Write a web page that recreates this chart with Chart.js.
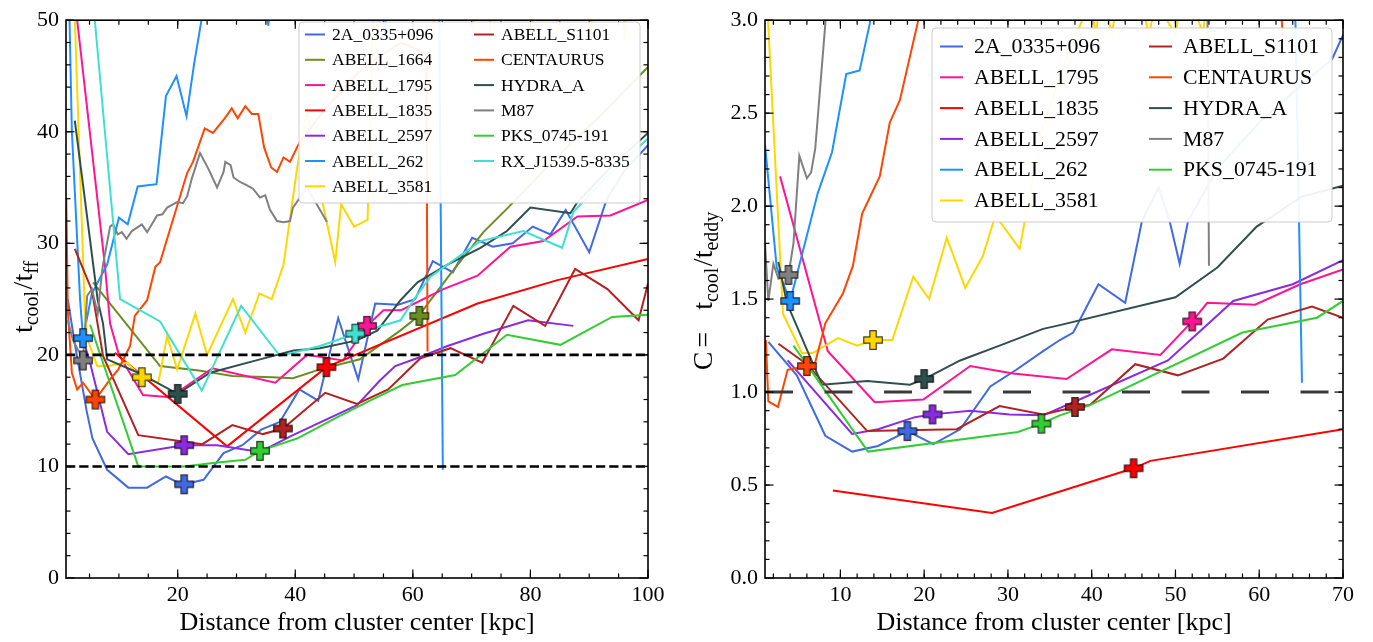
<!DOCTYPE html>
<html>
<head>
<meta charset="utf-8">
<script src="https://cdn.jsdelivr.net/npm/chart.js@4.4.1/dist/chart.umd.min.js"></script>
<style>
  body { margin: 0; background: #fff; width: 1373px; height: 642px; position: relative; overflow: hidden; }
  canvas { position: absolute; top: 0; }
  #tffChart { left: 0; }
  #eddyChart { left: 690px; }
</style>
</head>
<body>
<canvas id="tffChart" width="690" height="642"></canvas>
<canvas id="eddyChart" width="683" height="642"></canvas>

<script>
// Cluster names (legend order)
const tffNames = ['2A_0335+096', 'ABELL_1664', 'ABELL_1795', 'ABELL_1835', 'ABELL_2597', 'ABELL_262', 'ABELL_3581',
  'ABELL_S1101', 'CENTAURUS', 'HYDRA_A', 'M87', 'PKS_0745-191', 'RX_J1539.5-8335'];
const eddyNames = ['2A_0335+096', 'ABELL_1795', 'ABELL_1835', 'ABELL_2597', 'ABELL_262', 'ABELL_3581',
  'ABELL_S1101', 'CENTAURUS', 'HYDRA_A', 'M87', 'PKS_0745-191'];

const colors = {
  '2A_0335+096': '#4169E1', 'ABELL_1664': '#6B8E23', 'ABELL_1795': '#FF1493', 'ABELL_1835': '#FF0000',
  'ABELL_2597': '#8A2BE2', 'ABELL_262': '#1E90FF', 'ABELL_3581': '#FFD700', 'ABELL_S1101': '#B22222',
  'CENTAURUS': '#FF4500', 'HYDRA_A': '#2F4F4F', 'M87': '#808080', 'PKS_0745-191': '#32CD32',
  'RX_J1539.5-8335': '#40E0D0'
};

// ---- left panel: t_cool/t_ff profiles, [r (kpc), ratio] ----
const tff_2A0335 = [[1.3,25],[2.5,21],[3.5,18],[4.5,15],[5.5,12.5],[8,9.7],[11.6,8.1],[14.8,8.1],[18,9.1],[19.9,8.6],[21.1,8.4],[24.4,8.8],[27.8,11.2],[31,11.9],[34.2,13.3],[37.4,14],[40.7,16.9],[43.9,15.9],[47.3,23.3],[50.7,17.8],[53.6,24.6],[57.5,24.5],[60.4,25],[63.4,28.4],[66.8,27.4],[70.1,30.5],[73.6,29.7],[77,30],[80.4,31.5],[83.4,30.8],[86,33],[90,29.2],[93,34],[96,36.5],[100,38.8]];
const tff_A1664 = [[5.6,26.5],[17,19],[23.6,18.6],[29.3,18.1],[36.1,18],[39.6,17.9],[44.2,18.7],[51,19.6],[57.9,22.2],[61,23.5],[66,27],[72,31],[76.2,33.2],[85,38],[92,41.5],[100,45.8]];
const tff_A1795 = [[2,70],[2.9,50],[7.6,28.1],[8.5,22.8],[10,20],[14.1,16.4],[18.7,16.2],[25.9,18.8],[36.6,17.5],[42,20],[48.1,19.5],[52.2,22.6],[55,24],[58,24],[65.2,25.9],[71,27.1],[76.6,29.7],[82.2,30.2],[88,32.4],[93.6,32.5],[100,33.9]];
const tff_A1835 = [[9.3,20.2],[28.4,11.8],[45.3,18.9],[71,24.6],[84.6,26.7],[100,28.6]];
const tff_A2597 = [[3.5,22],[5,19.5],[8,13.1],[11.6,11.1],[21,11.9],[26.7,11.9],[34,11.3],[39.6,12.8],[50.5,15.5],[54.4,17.7],[57,19],[60.7,19.7],[65.9,20.8],[72,21.9],[79.6,23.1],[87.3,22.6]];
const tff_A262 = [[1.2,60],[2,40],[3.4,24.9],[3.9,21.5],[5.4,25.5],[8,28.1],[10,32.3],[11.5,31.7],[13.2,35.1],[16.4,35.3],[18,43.2],[19.8,45],[21.5,41.4],[22.8,46.1],[25,53],[35,53],[35.4,49.5],[36,53],[54.6,53],[55.2,48.5],[55.8,53],[64.4,55],[65.1,9.7]];
const tff_A3581 = [[2,80],[2.5,50],[4.2,24],[4.6,21.5],[6.3,19],[8,19],[11.4,19.3],[13.9,18],[16.7,17.5],[18.2,21.7],[19.9,18.7],[23,23.7],[25,20],[29.4,25],[31.5,22],[33.9,25.5],[36,25],[38,28.1],[40.3,36.7],[42,42],[44.5,34],[46.8,28.3],[47.8,33.5],[50,31.5],[52.3,32.1],[53.5,55],[54.3,49],[55,55],[63.3,55],[63.6,48.6],[64,55],[70,55],[70.3,48.8],[70.7,55],[72.8,55],[73.1,48.9],[73.5,55],[80,55],[80.3,48.7],[80.7,55],[84.3,55],[84.6,48.8],[85,55],[90,55],[90.3,48.5],[90.8,55],[95.5,55],[96,48.3],[96.6,55],[100,56]];
const tff_S1101 = [[2.5,29.5],[5.4,25.8],[7.3,19.9],[13.3,12.8],[24.2,12],[29.3,13.7],[34.5,12.9],[37.9,13.4],[45.1,16.6],[50.5,15.6],[55.8,16.9],[61.3,19.7],[66.4,20.6],[71.8,19.3],[77.1,24.4],[82.5,22.6],[87.6,27.7],[93.1,25.9],[98.4,23.1],[100,26.4]];
const tff_Centaurus = [[1.05,34],[1.3,24],[2,18.4],[2.9,16.9],[3.9,17.5],[6,16],[8.5,17.8],[9.9,18.7],[11.9,20.8],[12.7,23.5],[14.8,24.9],[16.2,27.9],[17,28.3],[21.6,36.3],[22.6,37.3],[24.6,40.3],[26,39.9],[28,41.2],[29.2,42.1],[30.2,41.2],[31.5,42.3],[32.6,41.6],[33.7,41.6],[34.7,38.6],[35.9,36.8],[36.9,36.4],[38,37.7],[39.1,37.3],[40.5,38.8],[45,42],[52,46],[58,48],[62.3,47],[62.5,20.3]];
const tff_HydraA = [[2.5,41],[6.4,24.9],[7.3,22.8],[8,19.6],[13.3,18.4],[20,16.5],[25.5,18.4],[34,19.6],[39.7,20.4],[44.2,20.6],[50.5,21.3],[54,22.2],[57.9,24.9],[60.8,26.5],[65.9,28.1],[71.5,29.6],[76,31.1],[80,33.2],[86.8,32.7],[88,33.7],[94,37],[100,39.9]];
const tff_M87 = [[1.3,23.1],[2.2,21.3],[3.9,19.6],[4.6,25.3],[5.4,25.9],[6.4,23.7],[7.1,27.3],[7.3,28.1],[8.5,31.5],[9,31.7],[9.8,30.8],[10.5,31],[11.3,30.4],[12.2,31.1],[13.9,31.7],[14.8,31],[16.5,32.5],[17.4,32.6],[18.2,33.2],[19.9,33.7],[20.9,33.6],[21.6,34.2],[22.4,35.8],[23.8,38.1],[25.2,36.7],[26.7,35],[27.8,36.4],[28.1,37.3],[29,37],[29.5,35.9],[30.6,35.5],[31.8,35.2],[32.8,34.9],[34,34.1],[34.9,34.3],[35.7,33],[36.9,32],[38,31.9],[39.1,32],[39.6,33.2],[42,35],[45.4,31.9]];
const tff_PKS0745 = [[5.1,22.7],[13.3,10],[21,10],[26,10.3],[31.5,10.6],[34,11.4],[40.3,12.5],[47.1,14.4],[52.7,15.9],[58.2,17.3],[67.2,18.2],[76,21.8],[85.1,20.9],[93.9,23.4],[100,23.6]];
const tff_RXJ1539 = [[5.4,60],[5.9,50],[10.2,25],[17,23],[24.1,16.8],[30.8,24.4],[37.4,19.9],[44.2,20.8],[50.2,21.9],[57.9,23.1],[60.5,25.2],[63,27],[71.5,30.2],[78.8,31.1],[85.4,29.6],[87.3,32.8],[93,36],[100,39.4]];

const tffProfiles = [tff_2A0335, tff_A1664, tff_A1795, tff_A1835, tff_A2597, tff_A262, tff_A3581,
  tff_S1101, tff_Centaurus, tff_HydraA, tff_M87, tff_PKS0745, tff_RXJ1539];
// chosen radius per cluster (same order as tffNames)
const tffMarkers = [[21.1,8.4],[61.1,23.5],[52.2,22.6],[45.3,18.9],[21.1,11.9],[3.9,21.5],[13.9,18],
  [37.9,13.4],[6,16],[20,16.5],[3.9,19.5],[34,11.4],[50.2,21.9]];
const tffLevels = [10, 20];
const tffXTicks = [20, 40, 60, 80, 100];
const tffYTicks = [0, 10, 20, 30, 40, 50];

// ---- right panel: C = t_cool/t_eddy profiles, [r (kpc), C] ----
const eddy_2A0335 = [[1.4,1.27],[4.8,1.09],[8.2,0.765],[11.4,0.68],[14.5,0.71],[18,0.79],[21.1,0.72],[24.3,0.8],[27.9,1.03],[31,1.12],[34.2,1.22],[36.2,1.28],[37.8,1.32],[40.8,1.58],[44,1.48],[46,1.92],[48,2.1],[49.3,1.92],[50.5,1.69],[51.5,1.92],[55,2.2],[60,2.45],[65,2.65],[68.7,2.79],[70,2.92]];
const eddy_A1795 = [[2.8,2.16],[8.5,1.22],[14.1,0.945],[19.9,0.96],[25.5,1.14],[30.6,1.1],[37,1.07],[42.4,1.23],[48.2,1.2],[52,1.38],[53.8,1.48],[59.5,1.47],[64.9,1.58],[70,1.66]];
const eddy_A1835 = [[9.1,0.47],[28.1,0.35],[45,0.59],[47,0.63],[70,0.8]];
const eddy_A2597 = [[3.7,1.17],[11.4,0.775],[14.5,0.8],[18.9,0.865],[21,0.88],[25.5,0.9],[30.2,0.88],[34.2,0.875],[37.8,0.945],[49.1,1.17],[56.9,1.49],[64,1.58],[70,1.71]];
const eddy_A262 = [[1,2.33],[2.4,1.67],[4,1.49],[7.3,2.07],[9,2.29],[10.7,2.71],[12.3,2.73],[13.5,2.98],[14.5,3.3],[63,3.4],[64.3,3.05],[65.1,1.05]];
const eddy_A3581 = [[1.36,3.0],[3.15,1.42],[5.4,1.21],[6.7,1.21],[9.7,1.29],[12,1.25],[13.9,1.28],[16.2,1.28],[18.7,1.62],[20.6,1.5],[22.7,1.83],[24.9,1.56],[27,1.73],[28.5,1.95],[31.4,1.77],[34,2.4],[37,2.8],[39.8,3.1],[40.5,2.93],[41.2,3.15],[42.4,2.93],[43.5,3.2],[46,3.1],[46.8,2.92],[47.7,3.1],[50,2.92],[51,3.2],[53.3,2.93],[54,3.2]];
const eddy_S1101 = [[2.6,1.26],[6,1.15],[13.2,0.79],[23.9,0.8],[29,0.925],[34.2,0.88],[38,0.92],[39.8,0.93],[45.2,1.15],[50.3,1.09],[55.7,1.18],[61,1.39],[66.3,1.46],[70,1.4]];
const eddy_Centaurus = [[1.1,1.28],[1.4,0.95],[2.55,0.92],[3.7,1.12],[6,1.14],[7,1.16],[8.2,1.37],[10.3,1.53],[11.5,1.68],[12.6,1.96],[14.7,2.16],[15.9,2.45],[17.1,2.57],[19.2,2.98],[20,3.2],[62.4,3.2],[62.8,2.92]];
const eddy_HydraA = [[2.6,1.7],[3.6,1.48],[7.8,1.04],[13.2,1.06],[18.3,1.04],[20,1.07],[24.3,1.17],[29,1.25],[34.2,1.34],[36.2,1.36],[50,1.51],[55,1.67],[59.7,1.89],[65,2.05],[70,2.11]];
const eddy_M87 = [[1,1.8],[1.4,1.49],[2,1.69],[2.6,1.61],[3.8,1.63],[4.4,1.8],[5.1,2.27],[6,2.15],[6.5,2.18],[7,2.31],[8.2,2.98],[8.5,3.2],[53.8,3.2],[54,1.68]];
const eddy_PKS0745 = [[4.4,1.25],[13.3,0.68],[31.2,0.785],[34,0.83],[36.2,0.875],[39.8,0.93],[58,1.32],[66.9,1.4],[70,1.49]];

const eddyProfiles = [eddy_2A0335, eddy_A1795, eddy_A1835, eddy_A2597, eddy_A262, eddy_A3581,
  eddy_S1101, eddy_Centaurus, eddy_HydraA, eddy_M87, eddy_PKS0745];
const eddyMarkers = [[18,0.79],[52,1.38],[45,0.59],[21,0.88],[4,1.49],[13.9,1.28],
  [38,0.92],[6,1.14],[20,1.07],[3.8,1.63],[34,0.83]];
const eddyLevels = [1.0];
const eddyXTicks = [10, 20, 30, 40, 50, 60, 70];
const eddyYTicks = [0, 0.5, 1.0, 1.5, 2.0, 2.5, 3.0];

const serif = "'Liberation Serif', 'Times New Roman', serif";

// filled "P" style plus marker
function plusMarker(color) {
  const c = document.createElement('canvas');
  c.width = 22; c.height = 22;
  const g = c.getContext('2d');
  const m = 11, r = 9.3, a = 3.2;
  g.beginPath();
  g.moveTo(m - a, m - r); g.lineTo(m + a, m - r); g.lineTo(m + a, m - a); g.lineTo(m + r, m - a);
  g.lineTo(m + r, m + a); g.lineTo(m + a, m + a); g.lineTo(m + a, m + r); g.lineTo(m - a, m + r);
  g.lineTo(m - a, m + a); g.lineTo(m - r, m + a); g.lineTo(m - r, m - a); g.lineTo(m - a, m - a);
  g.closePath();
  g.fillStyle = color; g.fill();
  g.strokeStyle = 'rgba(0,0,0,0.75)'; g.lineWidth = 1.2; g.stroke();
  return c;
}

function minorTicks(min, max, step) {
  const out = [];
  for (let v = step; v <= max + 1e-9; v += step) if (v >= min) out.push(v);
  return out;
}

// rotated label with subscripts; a number in parts is an extra gap in px
function drawYTitle(ctx, parts, cx, cy) {
  const main = "28px " + serif, sub = "20px " + serif;
  const width = p => {
    if (typeof p === 'number') return p;
    ctx.font = p[1] ? sub : main;
    return ctx.measureText(p[0]).width;
  };
  ctx.save();
  const w = parts.reduce((s, p) => s + width(p), 0);
  ctx.translate(cx, cy);
  ctx.rotate(-Math.PI / 2);
  ctx.fillStyle = '#000';
  ctx.textBaseline = 'alphabetic';
  ctx.textAlign = 'left';
  let x = -w / 2;
  parts.forEach(p => {
    const pw = width(p);
    if (typeof p !== 'number') ctx.fillText(p[0], x, p[1] ? 6 : 0);
    x += pw;
  });
  ctx.restore();
}

// two-column legend box inside the axes
function drawLegend(ctx, names, L) {
  ctx.save();
  const r = 4, { x, y, w, h } = L.box;
  ctx.beginPath();
  ctx.moveTo(x + r, y);
  ctx.arcTo(x + w, y, x + w, y + h, r);
  ctx.arcTo(x + w, y + h, x, y + h, r);
  ctx.arcTo(x, y + h, x, y, r);
  ctx.arcTo(x, y, x + w, y, r);
  ctx.closePath();
  ctx.fillStyle = 'rgba(255,255,255,0.93)';
  ctx.fill();
  ctx.strokeStyle = '#cccccc';
  ctx.lineWidth = 1;
  ctx.stroke();
  ctx.font = L.fontSize + 'px ' + serif;
  ctx.textBaseline = 'middle';
  ctx.textAlign = 'left';
  names.forEach((n, i) => {
    const col = Math.floor(i / L.rows), row = i % L.rows;
    const cy = y + L.firstRow + row * L.rowGap;
    const x0 = x + col * L.colGap;
    ctx.strokeStyle = colors[n];
    ctx.lineWidth = 2;
    ctx.beginPath();
    ctx.moveTo(x0 + L.swX, cy);
    ctx.lineTo(x0 + L.swX + L.swW, cy);
    ctx.stroke();
    ctx.fillStyle = '#000';
    ctx.fillText(n, x0 + L.textX, cy + 1);
  });
  ctx.restore();
}

// inward ticks on all four sides, frame, legend and rotated y title
const frameTicks = {
  id: 'frameTicks',
  afterDraw(chart, args, o) {
    const { ctx, chartArea: a, scales: { x, y } } = chart;
    ctx.save();
    ctx.strokeStyle = '#000';
    ctx.lineWidth = 1.2;
    const line = (x1, y1, x2, y2) => { ctx.beginPath(); ctx.moveTo(x1, y1); ctx.lineTo(x2, y2); ctx.stroke(); };
    const xt = (v, len) => { const p = x.getPixelForValue(v); line(p, a.bottom, p, a.bottom - len); line(p, a.top, p, a.top + len); };
    const yt = (v, len) => { const p = y.getPixelForValue(v); line(a.left, p, a.left + len, p); line(a.right, p, a.right - len, p); };
    o.xMinor.forEach(v => xt(v, 4.5));
    o.yMinor.forEach(v => yt(v, 4.5));
    o.xMajor.forEach(v => xt(v, 8.5));
    o.yMajor.forEach(v => yt(v, 8.5));
    ctx.lineWidth = 1.6;
    ctx.strokeRect(a.left, a.top, a.right - a.left, a.bottom - a.top);
    ctx.restore();
    drawLegend(ctx, o.names, o.legend);
    drawYTitle(ctx, o.title, o.titleX, o.titleY);
  }
};

function makePanel(canvasId, names, profiles, markers, levels, xr, yr, xTicks, yTicks, cfg) {
  const datasets = [];
  datasets.push({
    label: 'markers',
    data: markers.map(([x, y]) => ({ x, y })),
    showLine: false,
    pointStyle: names.map(n => plusMarker(colors[n])),
    pointRadius: 9,
    order: 0
  });
  levels.forEach(lv => {
    datasets.push({
      label: 'level ' + lv,
      data: [{ x: xr[0], y: lv }, { x: xr[1], y: lv }],
      borderColor: cfg.dashColor,
      borderWidth: cfg.dashWidth,
      borderDash: cfg.dash,
      pointRadius: 0,
      order: 1
    });
  });
  profiles.forEach((pts, i) => {
    datasets.push({
      label: names[i],
      data: pts.map(([x, y]) => ({ x, y })),
      borderColor: colors[names[i]],
      borderWidth: 2,
      pointRadius: 0,
      tension: 0,
      fill: false,
      order: 100 - i
    });
  });

  const tickFont = { family: serif, size: 22 };
  return new Chart(document.getElementById(canvasId), {
    type: 'line',
    data: { datasets },
    options: {
      responsive: false,
      animation: false,
      events: [],
      layout: { padding: cfg.padding },
      plugins: {
        legend: { display: false },
        tooltip: { enabled: false },
        frameTicks: {
          xMajor: xTicks, yMajor: yTicks,
          xMinor: minorTicks(xr[0], xr[1], cfg.xMinorStep),
          yMinor: minorTicks(yr[0], yr[1], cfg.yMinorStep),
          names: names, legend: cfg.legend,
          title: cfg.yTitle, titleX: cfg.yTitleX, titleY: cfg.yTitleY
        }
      },
      scales: {
        x: {
          type: 'linear', min: xr[0], max: xr[1],
          afterBuildTicks: s => { s.ticks = xTicks.map(v => ({ value: v })); },
          afterFit: s => { s.height = cfg.xAxisHeight; },
          grid: { display: false, drawTicks: false },
          border: { display: false },
          ticks: { autoSkip: false, maxRotation: 0, font: tickFont, color: '#000', padding: 4, callback: v => String(v) },
          title: {
            display: true, text: 'Distance from cluster center [kpc]',
            font: { family: serif, size: 26 }, color: '#000', padding: { top: 0, bottom: 3 }
          }
        },
        y: {
          type: 'linear', min: yr[0], max: yr[1],
          afterBuildTicks: s => { s.ticks = yTicks.map(v => ({ value: v })); },
          afterFit: s => { s.width = cfg.yAxisWidth; },
          grid: { display: false, drawTicks: false },
          border: { display: false },
          ticks: { autoSkip: false, font: tickFont, color: '#000', padding: 7, callback: cfg.yFormat }
        }
      }
    },
    plugins: [frameTicks]
  });
}

makePanel('tffChart', tffNames, tffProfiles, tffMarkers, tffLevels, [1, 100], [0, 50], tffXTicks, tffYTicks, {
  padding: { top: 13, right: 42, left: 0, bottom: 0 },
  xAxisHeight: 64, yAxisWidth: 66,
  xMinorStep: 5, yMinorStep: 2,
  dashColor: '#000', dashWidth: 2.6, dash: [9.25, 4],
  yFormat: v => String(v),
  legend: { box: { x: 299, y: 22, w: 341, h: 181 }, rows: 7, firstRow: 12.5, rowGap: 25.3,
    swX: 6, swW: 20, textX: 33, colGap: 169, fontSize: 17.5 },
  yTitle: [['t', false], ['cool', true], 1.5, ['/t', false], ['ff', true]], yTitleX: 32, yTitleY: 297
});

makePanel('eddyChart', eddyNames, eddyProfiles, eddyMarkers, eddyLevels, [1, 70], [0, 3], eddyXTicks, eddyYTicks, {
  padding: { top: 13, right: 30, left: 0, bottom: 0 },
  xAxisHeight: 64, yAxisWidth: 75,
  xMinorStep: 2, yMinorStep: 0.1,
  dashColor: '#3a3a3a', dashWidth: 3, dash: [28, 31.5],
  yFormat: v => v.toFixed(1),
  legend: { box: { x: 242, y: 28, w: 400, h: 194 }, rows: 6, firstRow: 18.5, rowGap: 30.8,
    swX: 8, swW: 23, textX: 42, colGap: 209, fontSize: 21.8 },
  yTitle: [['C', false], 4, ['=', false], 22, ['t', false], ['cool', true], 1.5, ['/t', false], ['eddy', true]],
  yTitleX: 22, yTitleY: 291
});
</script>
</body>
</html>
